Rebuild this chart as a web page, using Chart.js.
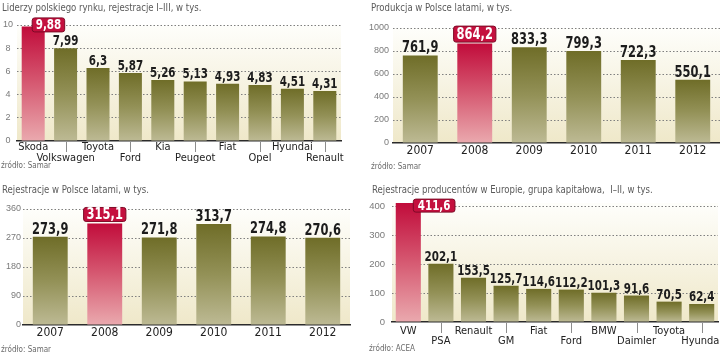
<!DOCTYPE html>
<html><head><meta charset="utf-8">
<script src="https://cdn.jsdelivr.net/npm/chart.js@4/dist/chart.umd.min.js"></script>
<style>
html,body{margin:0;padding:0;background:#fff}
body{width:720px;height:354px;position:relative;overflow:hidden;font-family:'DejaVu Sans Condensed','Liberation Sans Narrow',sans-serif}
.t{position:absolute;font-size:10px;color:#5a5a5a;white-space:nowrap;line-height:1;z-index:2;transform:scaleX(0.95);transform-origin:0 0}
.s{position:absolute;font-size:8px;color:#6a6a6a;white-space:nowrap;line-height:1;z-index:2}
canvas{position:absolute;z-index:1}
</style></head>
<body>
<canvas id="c1" width="345" height="177" style="left:0;top:0"></canvas>
<canvas id="c2" width="360" height="177" style="left:360px;top:0"></canvas>
<canvas id="c3" width="360" height="177" style="left:0;top:177px"></canvas>
<canvas id="c4" width="360" height="177" style="left:360px;top:177px"></canvas>
<div class="t" style="left:2px;top:3px">Liderzy polskiego rynku, rejestracje I–III, w tys.</div>
<div class="t" style="left:371px;top:3px">Produkcja w Polsce latami, w tys.</div>
<div class="t" style="left:2px;top:185px">Rejestracje w Polsce latami, w tys.</div>
<div class="t" style="left:372px;top:185px">Rejestracje producentów w Europie, grupa kapitałowa,&nbsp; I–II, w tys.</div>
<div class="s" style="left:1px;top:162px">źródło: Samar</div>
<div class="s" style="left:371px;top:163px">źródło: Samar</div>
<div class="s" style="left:1px;top:346px">źródło: Samar</div>
<div class="s" style="left:369px;top:345px">źródło: ACEA</div>
<script>
// ---- data ----
const brandsPL = ['Skoda','Volkswagen','Toyota','Ford','Kia','Peugeot','Fiat','Opel','Hyundai','Renault'];
const brandsPLValues = [9.88,7.99,6.3,5.87,5.26,5.13,4.93,4.83,4.51,4.31];
const brandsPLTicks = [0,2,4,6,8,10];

const years = ['2007','2008','2009','2010','2011','2012'];
const productionValues = [761.9,864.2,833.3,799.3,722.3,550.1];
const productionTicks = [0,200,400,600,800,1000];

const registrationValues = [273.9,315.1,271.8,313.7,274.8,270.6];
const registrationTicks = [0,90,180,270,360];

const groupsEU = ['VW','PSA','Renault','GM','Fiat','Ford','BMW','Daimler','Toyota','Hyundai'];
const groupsEUValues = [411.6,202.1,153.5,125.7,114.6,112.2,101.3,91.6,70.5,62.4];
const groupsEUTicks = [0,100,200,300,400];

// ---- styling ----
const NARROW = "'DejaVu Sans Condensed','Liberation Sans Narrow',sans-serif";
const REG = "'Liberation Sans','Arial',sans-serif";
const fmt = v => String(v).replace('.', ',');

function barGrad(c, cfg) {
  const ch = c.chart;
  const hl = c.dataIndex === cfg.hl;
  if (!ch.chartArea || c.dataIndex === undefined || !ch.scales.y) return '#7a7830';
  const ys = ch.scales.y;
  const top = ys.getPixelForValue(cfg.values[c.dataIndex]);
  const bot = ys.getPixelForValue(0);
  const g = ch.ctx.createLinearGradient(0, top, 0, bot);
  if (hl) { g.addColorStop(0, '#c10c3b'); g.addColorStop(0.5, '#d65a72'); g.addColorStop(1, '#eaa9ae'); }
  else { g.addColorStop(0, '#6f6d28'); g.addColorStop(0.5, '#939157'); g.addColorStop(1, '#bdba94'); }
  return g;
}

const bgPlugin = {
  id: 'bg',
  beforeDraw(chart) {
    const a = chart.chartArea, ctx = chart.ctx;
    const g = ctx.createLinearGradient(0, a.top, 0, a.bottom);
    g.addColorStop(0, '#fefefb');
    g.addColorStop(1, '#efe8c9');
    ctx.save(); ctx.fillStyle = g;
    ctx.fillRect(a.left, a.top, a.right - a.left, a.bottom - a.top);
    ctx.restore();
  }
};

function roundRect(ctx, x, y, w, h, r) {
  ctx.beginPath();
  ctx.moveTo(x + r, y); ctx.lineTo(x + w - r, y); ctx.quadraticCurveTo(x + w, y, x + w, y + r);
  ctx.lineTo(x + w, y + h - r); ctx.quadraticCurveTo(x + w, y + h, x + w - r, y + h);
  ctx.lineTo(x + r, y + h); ctx.quadraticCurveTo(x, y + h, x, y + h - r);
  ctx.lineTo(x, y + r); ctx.quadraticCurveTo(x, y, x + r, y);
  ctx.closePath();
}

function drawNarrow(ctx, txt, x, y, sx) {
  ctx.save(); ctx.translate(x, y); ctx.scale(sx, 1); ctx.fillText(txt, 0, 0); ctx.restore();
}

function labelPlugin(cfg) {
  return {
    id: 'lbl',
    afterDatasetsDraw(chart) {
      const ctx = chart.ctx, meta = chart.getDatasetMeta(0);
      const axisY = chart.scales.y.getPixelForValue(0);
      ctx.save();
      if (cfg.twoRow) {
        ctx.strokeStyle = '#8c8c8c'; ctx.lineWidth = 1;
        meta.data.forEach((bar, i) => {
          if (i % 2 === 1) {
            const x = Math.round(bar.x) + 0.5;
            ctx.beginPath(); ctx.moveTo(x, axisY + 1); ctx.lineTo(x, axisY + cfg.tickLen); ctx.stroke();
          }
        });
      }
      ctx.font = `bold ${cfg.vSize}px ${NARROW}`;
      ctx.textAlign = 'center';
      meta.data.forEach((bar, i) => {
        const txt = fmt(cfg.values[i]);
        if (i === cfg.hl) {
          const tw = ctx.measureText(txt).width * cfg.sx;
          let w, x0, y0, h = cfg.boxH;
          if (cfg.boxSide) {
            w = tw + cfg.boxPad;
            x0 = bar.x + cfg.boxDx;
            y0 = bar.y + cfg.boxDy - h / 2;
          } else {
            w = Math.max(bar.width, tw + cfg.boxPad);
            x0 = bar.x - w / 2;
            y0 = bar.y + cfg.boxDy - h;
          }
          roundRect(ctx, x0, y0, w, h, 2.5);
          ctx.fillStyle = '#c4103e'; ctx.fill();
          ctx.strokeStyle = '#7d0a26'; ctx.lineWidth = 1; ctx.stroke();
          ctx.fillStyle = '#ffffff'; ctx.textBaseline = 'middle';
          drawNarrow(ctx, txt, x0 + w / 2, y0 + h / 2 + 0.5, cfg.sx);
        } else {
          ctx.fillStyle = '#1c1c1c'; ctx.textBaseline = 'alphabetic';
          drawNarrow(ctx, txt, bar.x, bar.y - 3, cfg.sx);
        }
      });
      ctx.restore();
    }
  };
}

function makeChart(id, cfg) {
  return new Chart(document.getElementById(id), {
    type: 'bar',
    data: {
      labels: cfg.labels,
      datasets: [{
        data: cfg.values,
        backgroundColor: c => barGrad(c, cfg),
        borderWidth: 0,
        barPercentage: cfg.bp,
        categoryPercentage: 1
      }]
    },
    options: {
      responsive: false, animation: false, maintainAspectRatio: false,
      layout: { padding: { top: cfg.padTop, right: cfg.padRight, left: 0, bottom: 0 } },
      plugins: { legend: { display: false }, tooltip: { enabled: false }, title: { display: false } },
      scales: {
        x: {
          grid: { display: false, drawTicks: false },
          border: { display: true, color: '#2b2b2b', width: 1.5 },
          ticks: {
            autoSkip: false, maxRotation: 0, minRotation: 0, padding: cfg.xPad, color: '#222',
            font: { family: NARROW, size: cfg.xSize, lineHeight: cfg.xLH },
            callback: (v, i) => cfg.twoRow ? (i % 2 ? ['', cfg.labels[i]] : [cfg.labels[i]]) : cfg.labels[i]
          },
          afterFit: s => { s.height = cfg.xH; s.paddingLeft = 0; s.paddingRight = 0; }
        },
        y: {
          min: 0, max: cfg.max,
          afterBuildTicks: s => { s.ticks = cfg.ticks.map(v => ({ value: v })); },
          grid: { color: c => (c.tick && c.tick.value === 0) ? 'rgba(0,0,0,0)' : '#7f7f7f', lineWidth: 1, drawTicks: false },
          border: { display: false, dash: [1.5, 2] },
          ticks: { padding: cfg.yPad, color: '#7a7a7a', font: { family: REG, size: cfg.ySize },
                   crossAlign: cfg.yAlign || 'near', callback: v => String(v) },
          afterFit: s => { s.width = cfg.yW; s.paddingTop = 0; s.paddingBottom = 0; }
        }
      }
    },
    plugins: [bgPlugin, labelPlugin(cfg)]
  });
}

makeChart('c1', {
  labels: brandsPL, values: brandsPLValues, ticks: brandsPLTicks, max: 10, hl: 0,
  bp: 0.71, padTop: 25, padRight: 4, yW: 17, xH: 36, xPad: 0.5, xSize: 11, xLH: '11px',
  ySize: 9, yPad: 4, yAlign: 'center', vSize: 14, sx: 0.82, twoRow: true, tickLen: 11,
  boxSide: true, boxDx: -1, boxDy: -1.5, boxH: 14, boxPad: 7
});
makeChart('c2', {
  labels: years, values: productionValues, ticks: productionTicks, max: 1000, hl: 1,
  bp: 0.64, padTop: 28, padRight: 0, yW: 33, xH: 34, xPad: 1.5, xSize: 12, xLH: '13px',
  ySize: 9, yPad: 4, vSize: 15, sx: 0.85, twoRow: false,
  boxSide: false, boxDy: -1.5, boxH: 16, boxPad: 6
});
makeChart('c3', {
  labels: years, values: registrationValues, ticks: registrationTicks, max: 360, hl: 1,
  bp: 0.64, padTop: 32, padRight: 10, yW: 23, xH: 29, xPad: 1.5, xSize: 12, xLH: '13px',
  ySize: 9, yPad: 2, vSize: 15, sx: 0.85, twoRow: false,
  boxSide: false, boxDy: -2, boxH: 14, boxPad: 6
});
makeChart('c4', {
  labels: groupsEU, values: groupsEUValues, ticks: groupsEUTicks, max: 412, hl: 0,
  bp: 0.77, padTop: 26, padRight: 2, yW: 32, xH: 32, xPad: 4, xSize: 11, xLH: '10px',
  ySize: 9.5, yPad: 7, vSize: 14, sx: 0.82, twoRow: true, tickLen: 11,
  boxSide: true, boxDx: 5, boxDy: 2.5, boxH: 13, boxPad: 9
});
</script>
</body></html>
